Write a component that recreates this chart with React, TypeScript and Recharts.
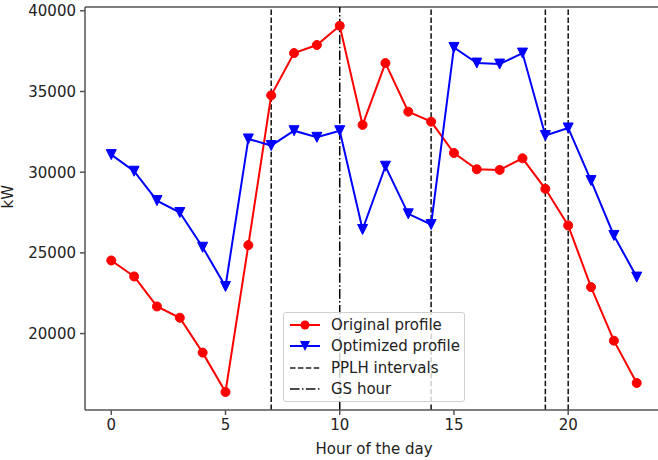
import React from 'react';
import { LineChart, Line, XAxis, YAxis, ReferenceLine } from 'recharts';

const hours = [0, 1, 2, 3, 4, 5, 6, 7, 8, 9, 10, 11, 12, 13, 14, 15, 16, 17, 18, 19, 20, 21, 22, 23];
const original = [24530, 23540, 21680, 20980, 18820, 16380, 25480, 34760, 37380, 37880, 39070, 32930, 36760, 33750, 33130, 31190, 30180, 30140, 30860, 28970, 26700, 22880, 19560, 16940];
const optimized = [31090, 30060, 28240, 27500, 25350, 22920, 32060, 31650, 32570, 32160, 32570, 26450, 30370, 27420, 26760, 37730, 36760, 36700, 37380, 32270, 32740, 29480, 26080, 23500];
const pplhHours = [7, 14, 19, 20];
const gsHour = 10;
const xTicks = [0, 5, 10, 15, 20];
const yTicks = [20000, 25000, 30000, 35000, 40000];

const data = hours.map((h, i) => ({ hour: h, original: original[i], optimized: optimized[i] }));

const FONT = '"DejaVu Sans", sans-serif';
const RED = '#ff0000';
const BLUE = '#0000ff';
const AXIS = '#555';

const CircleDot = (props: any) => {
  const { cx, cy } = props;
  if (cx == null || cy == null) return null;
  return <circle cx={cx} cy={cy} r={4.5} fill={RED} stroke={RED} />;
};

const TriDot = (props: any) => {
  const { cx, cy } = props;
  if (cx == null || cy == null) return null;
  const s = 5;
  return <polygon points={`${cx - s},${cy - s} ${cx + s},${cy - s} ${cx},${cy + s}`} fill={BLUE} stroke={BLUE} />;
};

const legendItems = [
  { label: 'Original profile', kind: 'red' },
  { label: 'Optimized profile', kind: 'blue' },
  { label: 'PPLH intervals', kind: 'dash' },
  { label: 'GS hour', kind: 'dashdot' },
];

const LegendBox = () => (
  <div
    style={{
      position: 'absolute',
      left: 283,
      top: 312,
      boxSizing: 'border-box',
      width: 182,
      height: 90,
      background: 'rgba(255,255,255,0.8)',
      border: '1px solid #d0d0d0',
      borderRadius: 3,
      padding: '1px 0 0 5px',
      fontFamily: FONT,
      fontSize: 15,
      color: '#222',
    }}
  >
    {legendItems.map((it) => (
      <div key={it.label} style={{ display: 'flex', alignItems: 'center', height: 21.5 }}>
        <svg width={42} height={14} style={{ flex: 'none' }}>
          {it.kind === 'red' && (
            <>
              <line x1={1} y1={7} x2={31} y2={7} stroke={RED} strokeWidth={2} />
              <circle cx={16} cy={7} r={4.5} fill={RED} />
            </>
          )}
          {it.kind === 'blue' && (
            <>
              <line x1={1} y1={7} x2={31} y2={7} stroke={BLUE} strokeWidth={2} />
              <polygon points="11,2 21,2 16,12" fill={BLUE} />
            </>
          )}
          {it.kind === 'dash' && (
            <line x1={1} y1={7} x2={31} y2={7} stroke="#222" strokeWidth={1.5} strokeDasharray="5.5 2.4" />
          )}
          {it.kind === 'dashdot' && (
            <line x1={1} y1={7} x2={31} y2={7} stroke="#111" strokeWidth={1.5} strokeDasharray="9.6 2.4 1.5 2.4" />
          )}
        </svg>
        <span style={{ whiteSpace: 'nowrap' }}>{it.label}</span>
      </div>
    ))}
  </div>
);

export default function App() {
  return (
    <div style={{ position: 'absolute', left: 0, top: 0, width: 658, height: 460, overflow: 'hidden', background: '#fff' }}>
      <LineChart width={680} height={460} data={data} margin={{ top: 7, right: 17, bottom: 0, left: 0 }}>
        <XAxis
          dataKey="hour"
          type="number"
          domain={[-1.15, 24.15]}
          ticks={xTicks}
          allowDataOverflow
          height={50}
          stroke={AXIS}
          strokeWidth={1.5}
          tickSize={5}
          tickMargin={4}
          tick={{ fill: '#222', fontFamily: FONT, fontSize: 15 }}
          label={{ value: 'Hour of the day', position: 'insideBottom', offset: 6, fill: '#222', fontFamily: FONT, fontSize: 15 }}
        />
        <YAxis
          type="number"
          domain={[15265, 40235]}
          ticks={yTicks}
          allowDataOverflow
          width={85}
          stroke={AXIS}
          strokeWidth={1.5}
          tickSize={5}
          tickMargin={4}
          tick={{ fill: '#222', fontFamily: FONT, fontSize: 15 }}
          label={{ value: 'kW', angle: -90, position: 'insideLeft', offset: 8, fill: '#222', fontFamily: FONT, fontSize: 15 }}
        />
        <ReferenceLine y={40235} stroke={AXIS} strokeWidth={1.5} />
        {pplhHours.map((h) => (
          <ReferenceLine key={h} x={h} stroke="#111" strokeWidth={1.5} strokeDasharray="5.5 2.4" />
        ))}
        <ReferenceLine x={gsHour} stroke="#000" strokeWidth={1.5} strokeDasharray="9.6 2.4 1.5 2.4" />
        <Line dataKey="original" stroke={RED} strokeWidth={2} dot={<CircleDot />} activeDot={false} isAnimationActive={false} />
        <Line dataKey="optimized" stroke={BLUE} strokeWidth={2} dot={<TriDot />} activeDot={false} isAnimationActive={false} />
      </LineChart>
      <LegendBox />
    </div>
  );
}
